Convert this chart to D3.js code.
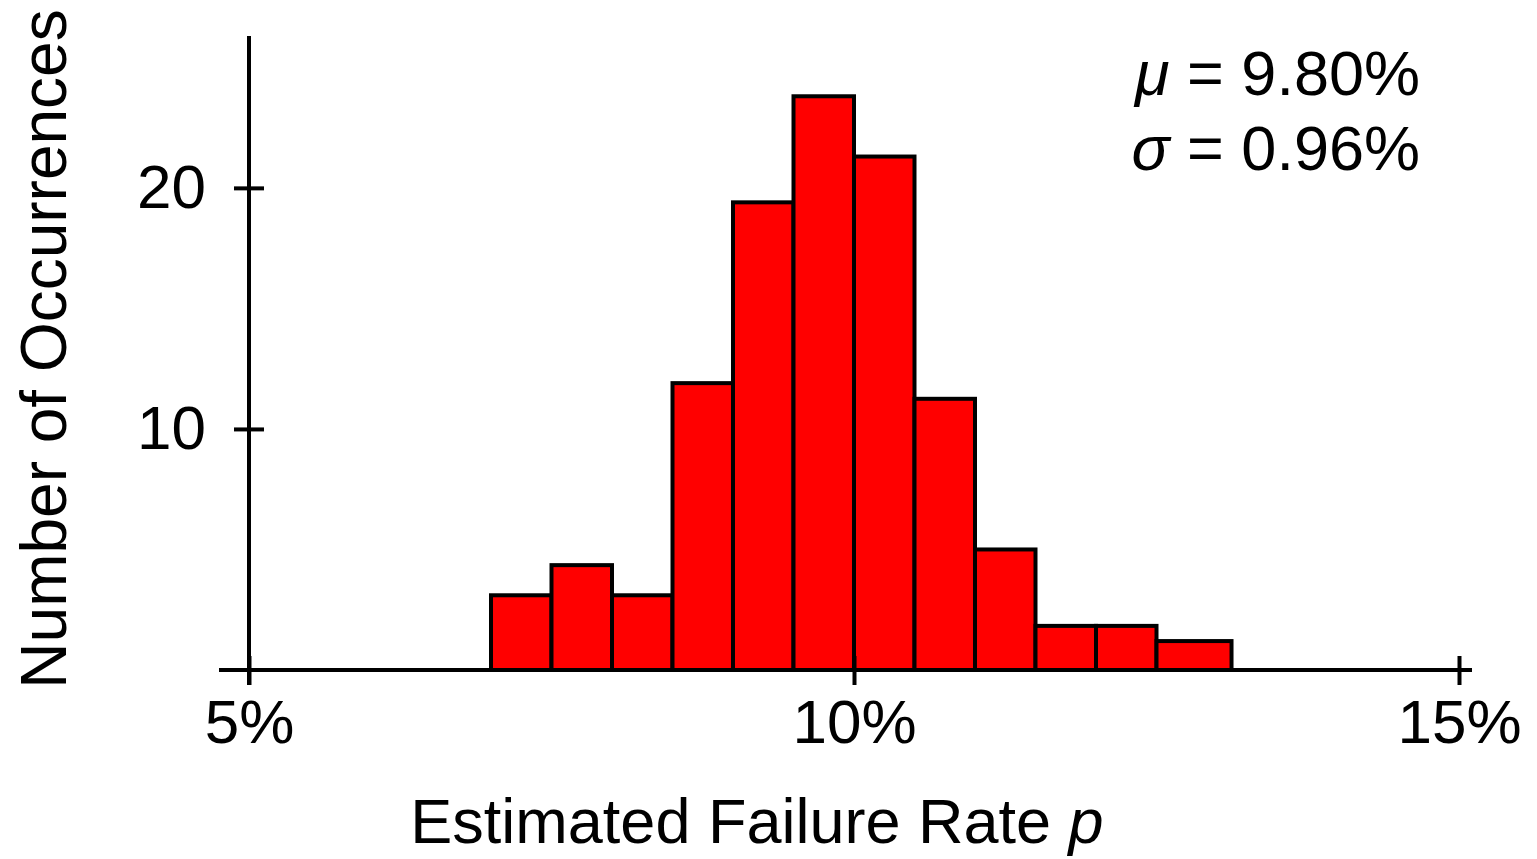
<!DOCTYPE html>
<html>
<head>
<meta charset="utf-8">
<script src="https://d3js.org/d3.v7.min.js"></script>
<style>
  body { margin: 0; background: #fff; }
  text { font-family: "Liberation Sans", Arial, sans-serif; }
</style>
</head>
<body>
<div id="container"></div>
<script>
/* DATA */
const binEdges = [7.0, 7.5, 8.0, 8.5, 9.0, 9.5, 10.0, 10.5, 11.0, 11.5, 12.0, 12.5, 13.12];
const counts = [3.1, 4.35, 3.1, 11.9, 19.4, 23.8, 21.3, 11.25, 5.0, 1.83, 1.83, 1.2];
const xTicks = [5, 10, 15];
const yTicks = [10, 20];
const statLabels = [["\u03bc", " = 9.80%"], ["\u03c3", " = 0.96%"]];

/* CONSTANTS AND GLOBALS */
const width = 1537, height = 859;

const bins = counts.map((c, i) => ({x0: binEdges[i], x1: binEdges[i + 1], count: c}));

const svg = d3.select("#container").append("svg")
    .attr("width", width)
    .attr("height", height);

const xScale = d3.scaleLinear()
    .domain([5, 15])
    .range([249, 1459]);

const yScale = d3.scaleLinear()
    .domain([0, 26.3])
    .range([670, 36]);

// bars
svg.selectAll("rect.bar")
  .data(bins)
  .join("rect")
    .attr("class", "bar")
    .attr("x", d => xScale(d.x0))
    .attr("y", d => yScale(d.count))
    .attr("width", d => xScale(d.x1) - xScale(d.x0))
    .attr("height", d => yScale(0) - yScale(d.count))
    .attr("fill", "#ff0000")
    .attr("stroke", "#000")
    .attr("stroke-width", 4);

// x axis
const xAxis = svg.append("g")
    .attr("transform", "translate(0," + yScale(0) + ")")
    .call(d3.axisBottom(xScale).tickValues(xTicks).tickSize(15).tickPadding(14).tickFormat(d => d + "%"));
xAxis.select(".domain").remove();
xAxis.selectAll(".tick line").attr("y1", -14).attr("stroke-width", 4);
xAxis.selectAll(".tick text")
    .style("font-size", "62px")
    .attr("fill", "#000");
xAxis.append("line")
    .attr("x1", xScale(5) - 30).attr("x2", xScale(15) + 13)
    .attr("stroke", "#000").attr("stroke-width", 4);

// y axis
const yAxis = svg.append("g")
    .attr("transform", "translate(" + xScale(5) + ",0)")
    .call(d3.axisLeft(yScale).tickValues(yTicks).tickSize(15).tickPadding(28));
yAxis.select(".domain").remove();
yAxis.selectAll(".tick line").attr("x1", 15).attr("stroke-width", 4);
yAxis.selectAll(".tick text")
    .style("font-size", "62px")
    .attr("fill", "#000");
yAxis.append("line")
    .attr("y1", yScale(26.3)).attr("y2", yScale(0) + 15)
    .attr("stroke", "#000").attr("stroke-width", 4);

// axis labels
const xLabel = svg.append("text")
    .attr("x", 757)
    .attr("y", 843)
    .attr("text-anchor", "middle")
    .style("font-size", "63px");
xLabel.append("tspan").text("Estimated Failure Rate ");
xLabel.append("tspan").style("font-style", "italic").text("p");

svg.append("text")
    .attr("transform", "translate(66,349) rotate(-90)")
    .attr("text-anchor", "middle")
    .style("font-size", "64px")
    .text("Number of Occurrences");

// mean / sd annotation
svg.selectAll("text.stat")
  .data(statLabels)
  .join("text")
    .attr("class", "stat")
    .attr("x", 1420)
    .attr("y", (d, i) => 95 + i * 75)
    .attr("text-anchor", "end")
    .style("font-size", "63px")
    .each(function(d) {
      d3.select(this).append("tspan").style("font-style", "italic").text(d[0]);
      d3.select(this).append("tspan").text(d[1]);
    });
</script>
</body>
</html>
